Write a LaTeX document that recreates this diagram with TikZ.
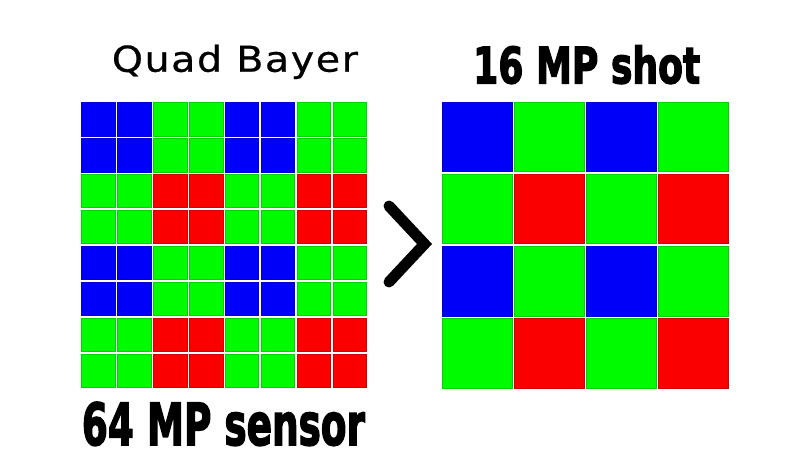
\documentclass[tikz,border=0pt]{standalone}
\usepackage{fontspec}
\setmainfont{DejaVu Sans}
\newfontfamily\qbfont[LetterSpace=4,FakeBold=0.6]{DejaVu Sans}
\newfontfamily\heavyfont[FakeBold=3]{DejaVu Sans Bold}
\definecolor{bayerB}{RGB}{0,0,250}
\definecolor{bayerG}{RGB}{0,250,0}
\definecolor{bayerR}{RGB}{250,0,0}
\begin{document}
\begin{tikzpicture}[x=1pt,y=-1pt,
  smallcell/.style={rectangle, inner sep=0pt, minimum size=33.4pt, line width=0.5pt},
  bigcell/.style={rectangle, inner sep=0pt, minimum size=69.5pt, line width=0.6pt},
  chevron/.style={line width=11pt, line cap=round, line join=miter},
  label/.style={anchor=base west, inner sep=0pt}]
\useasboundingbox (0,0) rectangle (800,462);
\fill[white] (0,0) rectangle (800,462);
% left grid: 64 MP quad bayer
\foreach \r in {0,...,7}{
  \foreach \c in {0,...,7}{
    \pgfmathtruncatemacro\br{mod(floor(\r/2),2)}
    \pgfmathtruncatemacro\bc{mod(floor(\c/2),2)}
    \pgfmathtruncatemacro\k{\br+\bc}
    \ifcase\k \def\col{bayerB}\or\def\col{bayerG}\or\def\col{bayerR}\fi
    \node[smallcell, fill=\col, draw=\col!85!black] (L-\r-\c)
      at ({81.7+16.7+35.9*\c},{102.5+16.7+35.9*\r}) {};
  }
}
% right grid: 16 MP
\foreach \r in {0,...,3}{
  \foreach \c in {0,...,3}{
    \pgfmathtruncatemacro\br{mod(\r,2)}
    \pgfmathtruncatemacro\bc{mod(\c,2)}
    \pgfmathtruncatemacro\k{\br+\bc}
    \ifcase\k \def\col{bayerB}\or\def\col{bayerG}\or\def\col{bayerR}\fi
    \node[bigcell, fill=\col, draw=\col!85!black] (R-\r-\c)
      at ({442.7+34.75+72*\c},{102.3+34.75+72*\r}) {};
  }
}
% chevron
\coordinate (chA) at (389,206);
\coordinate (chT) at (424.5,244);
\coordinate (chB) at (389,282);
\draw[chevron] (chA) -- (chT) -- (chB);
% labels
\node[label] (qb) at (111.7,71.7) {\resizebox{246pt}{27pt}{\qbfont Quad Bayer}};
\node[label] (mp64) at (81.7,445) {\resizebox{283pt}{43pt}{\heavyfont 64 MP sensor}};
\node[label] (mp16) at (473,83.3) {\resizebox{227pt}{38pt}{\heavyfont 16 MP shot}};
\end{tikzpicture}
\end{document}
